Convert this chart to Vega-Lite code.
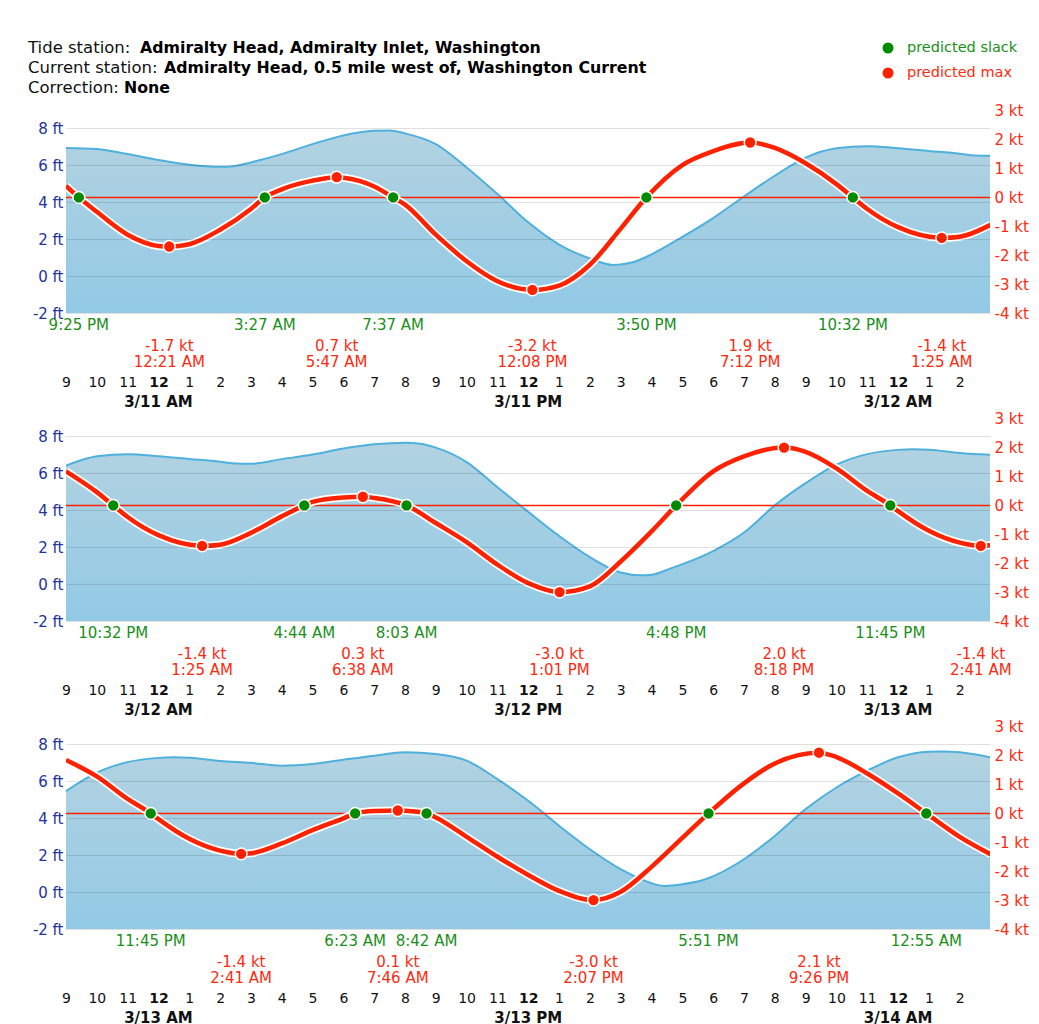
{
 "$schema": "https://vega.github.io/schema/vega-lite/v6.json",
 "background": "white",
 "padding": {"left": 28, "top": 40, "right": 4, "bottom": 0},
 "autosize": {"type": "pad"},
 "config": {"font": "DejaVu Sans", "view": {"stroke": null}},
 "datasets": {
  "header": [
   {"label": "Tide station:", "value": "Admiralty Head, Admiralty Inlet, Washington"},
   {"label": "Current station:", "value": "Admiralty Head, 0.5 mile west of, Washington Current"},
   {"label": "Correction:", "value": "None"}
  ],
  "legend": [
   {"item": "predicted slack", "kind": "slack"},
   {"item": "predicted max", "kind": "max"}
  ],
  "days": [
   {"t": "2013-03-11T00:00Z", "day": "3/11 AM"}, {"t": "2013-03-11T12:00Z", "day": "3/11 PM"},
   {"t": "2013-03-12T00:00Z", "day": "3/12 AM"}, {"t": "2013-03-12T12:00Z", "day": "3/12 PM"},
   {"t": "2013-03-13T00:00Z", "day": "3/13 AM"}, {"t": "2013-03-13T12:00Z", "day": "3/13 PM"},
   {"t": "2013-03-14T00:00Z", "day": "3/14 AM"}
  ],
  "tide": [
   {"t": "2013-03-10T21:00Z", "ft": 6.92}, {"t": "2013-03-10T22:00Z", "ft": 6.86}, {"t": "2013-03-10T23:00Z", "ft": 6.59},
   {"t": "2013-03-11T00:00Z", "ft": 6.27}, {"t": "2013-03-11T01:00Z", "ft": 6.01}, {"t": "2013-03-11T02:00Z", "ft": 5.90},
   {"t": "2013-03-11T02:30Z", "ft": 5.95}, {"t": "2013-03-11T03:00Z", "ft": 6.14}, {"t": "2013-03-11T04:00Z", "ft": 6.59},
   {"t": "2013-03-11T05:00Z", "ft": 7.13}, {"t": "2013-03-11T06:00Z", "ft": 7.60}, {"t": "2013-03-11T07:00Z", "ft": 7.85},
   {"t": "2013-03-11T07:30Z", "ft": 7.87}, {"t": "2013-03-11T08:00Z", "ft": 7.71}, {"t": "2013-03-11T09:00Z", "ft": 7.13},
   {"t": "2013-03-11T10:00Z", "ft": 5.87}, {"t": "2013-03-11T11:00Z", "ft": 4.43}, {"t": "2013-03-11T12:00Z", "ft": 2.90},
   {"t": "2013-03-11T13:00Z", "ft": 1.70}, {"t": "2013-03-11T14:00Z", "ft": 0.95}, {"t": "2013-03-11T14:45Z", "ft": 0.60},
   {"t": "2013-03-11T15:00Z", "ft": 0.62}, {"t": "2013-03-11T15:30Z", "ft": 0.80}, {"t": "2013-03-11T16:00Z", "ft": 1.17},
   {"t": "2013-03-11T17:00Z", "ft": 2.11}, {"t": "2013-03-11T18:00Z", "ft": 3.13}, {"t": "2013-03-11T19:00Z", "ft": 4.30},
   {"t": "2013-03-11T20:00Z", "ft": 5.42}, {"t": "2013-03-11T21:00Z", "ft": 6.40}, {"t": "2013-03-11T22:00Z", "ft": 6.90},
   {"t": "2013-03-11T23:00Z", "ft": 7.02}, {"t": "2013-03-12T00:00Z", "ft": 6.91}, {"t": "2013-03-12T01:00Z", "ft": 6.76},
   {"t": "2013-03-12T02:00Z", "ft": 6.61}, {"t": "2013-03-12T02:30Z", "ft": 6.52}, {"t": "2013-03-12T03:00Z", "ft": 6.50},
   {"t": "2013-03-12T04:00Z", "ft": 6.75}, {"t": "2013-03-12T05:00Z", "ft": 7.00}, {"t": "2013-03-12T06:00Z", "ft": 7.32},
   {"t": "2013-03-12T07:00Z", "ft": 7.55}, {"t": "2013-03-12T08:00Z", "ft": 7.64}, {"t": "2013-03-12T08:30Z", "ft": 7.58},
   {"t": "2013-03-12T09:00Z", "ft": 7.37}, {"t": "2013-03-12T10:00Z", "ft": 6.59}, {"t": "2013-03-12T11:00Z", "ft": 5.23},
   {"t": "2013-03-12T12:00Z", "ft": 3.90}, {"t": "2013-03-12T13:00Z", "ft": 2.60}, {"t": "2013-03-12T14:00Z", "ft": 1.45},
   {"t": "2013-03-12T15:00Z", "ft": 0.62}, {"t": "2013-03-12T15:40Z", "ft": 0.47}, {"t": "2013-03-12T16:00Z", "ft": 0.50},
   {"t": "2013-03-12T16:40Z", "ft": 0.87}, {"t": "2013-03-12T18:00Z", "ft": 1.78}, {"t": "2013-03-12T19:00Z", "ft": 2.78},
   {"t": "2013-03-12T20:00Z", "ft": 4.25}, {"t": "2013-03-12T21:00Z", "ft": 5.45}, {"t": "2013-03-12T22:00Z", "ft": 6.45},
   {"t": "2013-03-12T23:00Z", "ft": 7.02}, {"t": "2013-03-13T00:00Z", "ft": 7.25}, {"t": "2013-03-13T00:30Z", "ft": 7.28},
   {"t": "2013-03-13T01:00Z", "ft": 7.26}, {"t": "2013-03-13T02:00Z", "ft": 7.08}, {"t": "2013-03-13T03:00Z", "ft": 6.98},
   {"t": "2013-03-13T04:00Z", "ft": 6.83}, {"t": "2013-03-13T05:00Z", "ft": 6.92}, {"t": "2013-03-13T06:00Z", "ft": 7.15},
   {"t": "2013-03-13T07:00Z", "ft": 7.37}, {"t": "2013-03-13T08:00Z", "ft": 7.55}, {"t": "2013-03-13T09:00Z", "ft": 7.46},
   {"t": "2013-03-13T10:00Z", "ft": 7.10}, {"t": "2013-03-13T11:00Z", "ft": 6.10}, {"t": "2013-03-13T12:00Z", "ft": 4.93},
   {"t": "2013-03-13T13:00Z", "ft": 3.58}, {"t": "2013-03-13T14:00Z", "ft": 2.31}, {"t": "2013-03-13T15:00Z", "ft": 1.23},
   {"t": "2013-03-13T15:40Z", "ft": 0.69}, {"t": "2013-03-13T16:25Z", "ft": 0.33}, {"t": "2013-03-13T17:00Z", "ft": 0.42},
   {"t": "2013-03-13T17:45Z", "ft": 0.69}, {"t": "2013-03-13T19:00Z", "ft": 1.77}, {"t": "2013-03-13T20:00Z", "ft": 3.03},
   {"t": "2013-03-13T21:00Z", "ft": 4.48}, {"t": "2013-03-13T22:00Z", "ft": 5.65}, {"t": "2013-03-13T23:00Z", "ft": 6.56},
   {"t": "2013-03-14T00:00Z", "ft": 7.28}, {"t": "2013-03-14T01:00Z", "ft": 7.58}, {"t": "2013-03-14T01:30Z", "ft": 7.60},
   {"t": "2013-03-14T02:00Z", "ft": 7.55}, {"t": "2013-03-14T03:00Z", "ft": 7.28}
  ],
  "current": [
   {"t": "2013-03-10T21:00Z", "kt": 0.40}, {"t": "2013-03-10T21:25Z", "kt": 0}, {"t": "2013-03-10T22:00Z", "kt": -0.50},
   {"t": "2013-03-10T23:00Z", "kt": -1.29}, {"t": "2013-03-11T00:00Z", "kt": -1.68}, {"t": "2013-03-11T00:21Z", "kt": -1.70},
   {"t": "2013-03-11T01:00Z", "kt": -1.62}, {"t": "2013-03-11T02:00Z", "kt": -1.12}, {"t": "2013-03-11T03:00Z", "kt": -0.40},
   {"t": "2013-03-11T03:27Z", "kt": 0}, {"t": "2013-03-11T04:00Z", "kt": 0.28}, {"t": "2013-03-11T05:00Z", "kt": 0.58},
   {"t": "2013-03-11T05:47Z", "kt": 0.70}, {"t": "2013-03-11T06:00Z", "kt": 0.68}, {"t": "2013-03-11T07:00Z", "kt": 0.38},
   {"t": "2013-03-11T07:37Z", "kt": 0}, {"t": "2013-03-11T08:00Z", "kt": -0.25}, {"t": "2013-03-11T09:00Z", "kt": -1.29},
   {"t": "2013-03-11T10:00Z", "kt": -2.21}, {"t": "2013-03-11T11:00Z", "kt": -2.90}, {"t": "2013-03-11T12:08Z", "kt": -3.20},
   {"t": "2013-03-11T13:00Z", "kt": -3.05}, {"t": "2013-03-11T14:00Z", "kt": -2.33}, {"t": "2013-03-11T15:00Z", "kt": -1.08},
   {"t": "2013-03-11T15:50Z", "kt": 0}, {"t": "2013-03-11T17:00Z", "kt": 1.12}, {"t": "2013-03-11T18:00Z", "kt": 1.60},
   {"t": "2013-03-11T19:12Z", "kt": 1.90}, {"t": "2013-03-11T20:00Z", "kt": 1.71}, {"t": "2013-03-11T21:00Z", "kt": 1.18},
   {"t": "2013-03-11T22:00Z", "kt": 0.46}, {"t": "2013-03-11T22:32Z", "kt": 0}, {"t": "2013-03-11T23:00Z", "kt": -0.40},
   {"t": "2013-03-12T00:00Z", "kt": -1.03}, {"t": "2013-03-12T01:25Z", "kt": -1.40}, {"t": "2013-03-12T02:00Z", "kt": -1.36},
   {"t": "2013-03-12T03:00Z", "kt": -0.95}, {"t": "2013-03-12T04:00Z", "kt": -0.38}, {"t": "2013-03-12T04:44Z", "kt": 0},
   {"t": "2013-03-12T05:00Z", "kt": 0.12}, {"t": "2013-03-12T06:00Z", "kt": 0.27}, {"t": "2013-03-12T06:38Z", "kt": 0.30},
   {"t": "2013-03-12T07:00Z", "kt": 0.26}, {"t": "2013-03-12T08:03Z", "kt": 0}, {"t": "2013-03-12T09:00Z", "kt": -0.61},
   {"t": "2013-03-12T10:00Z", "kt": -1.27}, {"t": "2013-03-12T11:00Z", "kt": -2.05}, {"t": "2013-03-12T12:00Z", "kt": -2.69},
   {"t": "2013-03-12T13:01Z", "kt": -3.00}, {"t": "2013-03-12T14:00Z", "kt": -2.80}, {"t": "2013-03-12T15:00Z", "kt": -1.94},
   {"t": "2013-03-12T16:00Z", "kt": -0.90}, {"t": "2013-03-12T16:48Z", "kt": 0}, {"t": "2013-03-12T18:00Z", "kt": 1.18},
   {"t": "2013-03-12T19:00Z", "kt": 1.70}, {"t": "2013-03-12T20:18Z", "kt": 2.00}, {"t": "2013-03-12T21:00Z", "kt": 1.85},
   {"t": "2013-03-12T22:00Z", "kt": 1.28}, {"t": "2013-03-12T23:00Z", "kt": 0.50}, {"t": "2013-03-12T23:45Z", "kt": 0},
   {"t": "2013-03-13T00:00Z", "kt": -0.20}, {"t": "2013-03-13T01:00Z", "kt": -0.88}, {"t": "2013-03-13T02:00Z", "kt": -1.29},
   {"t": "2013-03-13T02:41Z", "kt": -1.40}, {"t": "2013-03-13T03:00Z", "kt": -1.38}, {"t": "2013-03-13T04:00Z", "kt": -1.04},
   {"t": "2013-03-13T05:00Z", "kt": -0.58}, {"t": "2013-03-13T06:00Z", "kt": -0.17}, {"t": "2013-03-13T06:23Z", "kt": 0},
   {"t": "2013-03-13T07:00Z", "kt": 0.08}, {"t": "2013-03-13T07:46Z", "kt": 0.10}, {"t": "2013-03-13T08:00Z", "kt": 0.09},
   {"t": "2013-03-13T08:42Z", "kt": 0}, {"t": "2013-03-13T09:00Z", "kt": -0.14}, {"t": "2013-03-13T10:00Z", "kt": -0.81},
   {"t": "2013-03-13T11:00Z", "kt": -1.50}, {"t": "2013-03-13T12:00Z", "kt": -2.13}, {"t": "2013-03-13T13:00Z", "kt": -2.68},
   {"t": "2013-03-13T14:07Z", "kt": -3.00}, {"t": "2013-03-13T15:00Z", "kt": -2.71}, {"t": "2013-03-13T16:00Z", "kt": -1.85},
   {"t": "2013-03-13T17:00Z", "kt": -0.85}, {"t": "2013-03-13T17:51Z", "kt": 0}, {"t": "2013-03-13T19:00Z", "kt": 1.04},
   {"t": "2013-03-13T20:00Z", "kt": 1.73}, {"t": "2013-03-13T21:26Z", "kt": 2.10}, {"t": "2013-03-13T22:00Z", "kt": 1.95},
   {"t": "2013-03-13T23:00Z", "kt": 1.38}, {"t": "2013-03-14T00:00Z", "kt": 0.69}, {"t": "2013-03-14T00:55Z", "kt": 0},
   {"t": "2013-03-14T02:00Z", "kt": -0.81}, {"t": "2013-03-14T03:00Z", "kt": -1.41}
  ],
  "events": [
   {"t": "2013-03-10T21:25Z", "kind": "slack", "kt": 0, "label": "9:25 PM", "speed": ""},
   {"t": "2013-03-11T00:21Z", "kind": "max", "kt": -1.7, "label": "12:21 AM", "speed": "-1.7 kt"},
   {"t": "2013-03-11T03:27Z", "kind": "slack", "kt": 0, "label": "3:27 AM", "speed": ""},
   {"t": "2013-03-11T05:47Z", "kind": "max", "kt": 0.7, "label": "5:47 AM", "speed": "0.7 kt"},
   {"t": "2013-03-11T07:37Z", "kind": "slack", "kt": 0, "label": "7:37 AM", "speed": ""},
   {"t": "2013-03-11T12:08Z", "kind": "max", "kt": -3.2, "label": "12:08 PM", "speed": "-3.2 kt"},
   {"t": "2013-03-11T15:50Z", "kind": "slack", "kt": 0, "label": "3:50 PM", "speed": ""},
   {"t": "2013-03-11T19:12Z", "kind": "max", "kt": 1.9, "label": "7:12 PM", "speed": "1.9 kt"},
   {"t": "2013-03-11T22:32Z", "kind": "slack", "kt": 0, "label": "10:32 PM", "speed": ""},
   {"t": "2013-03-12T01:25Z", "kind": "max", "kt": -1.4, "label": "1:25 AM", "speed": "-1.4 kt"},
   {"t": "2013-03-12T04:44Z", "kind": "slack", "kt": 0, "label": "4:44 AM", "speed": ""},
   {"t": "2013-03-12T06:38Z", "kind": "max", "kt": 0.3, "label": "6:38 AM", "speed": "0.3 kt"},
   {"t": "2013-03-12T08:03Z", "kind": "slack", "kt": 0, "label": "8:03 AM", "speed": ""},
   {"t": "2013-03-12T13:01Z", "kind": "max", "kt": -3.0, "label": "1:01 PM", "speed": "-3.0 kt"},
   {"t": "2013-03-12T16:48Z", "kind": "slack", "kt": 0, "label": "4:48 PM", "speed": ""},
   {"t": "2013-03-12T20:18Z", "kind": "max", "kt": 2.0, "label": "8:18 PM", "speed": "2.0 kt"},
   {"t": "2013-03-12T23:45Z", "kind": "slack", "kt": 0, "label": "11:45 PM", "speed": ""},
   {"t": "2013-03-13T02:41Z", "kind": "max", "kt": -1.4, "label": "2:41 AM", "speed": "-1.4 kt"},
   {"t": "2013-03-13T06:23Z", "kind": "slack", "kt": 0, "label": "6:23 AM", "speed": ""},
   {"t": "2013-03-13T07:46Z", "kind": "max", "kt": 0.1, "label": "7:46 AM", "speed": "0.1 kt"},
   {"t": "2013-03-13T08:42Z", "kind": "slack", "kt": 0, "label": "8:42 AM", "speed": ""},
   {"t": "2013-03-13T14:07Z", "kind": "max", "kt": -3.0, "label": "2:07 PM", "speed": "-3.0 kt"},
   {"t": "2013-03-13T17:51Z", "kind": "slack", "kt": 0, "label": "5:51 PM", "speed": ""},
   {"t": "2013-03-13T21:26Z", "kind": "max", "kt": 2.1, "label": "9:26 PM", "speed": "2.1 kt"},
   {"t": "2013-03-14T00:55Z", "kind": "slack", "kt": 0, "label": "12:55 AM", "speed": ""}
  ]
 },
 "bounds": "flush",
 "spacing": 40,
 "vconcat": [
  {
   "width": 924, "height": 40,
   "resolve": {"scale": {"y": "independent"}},
   "layer": [
    {"data": {"name": "header"},
     "mark": {"type": "text", "align": "left", "baseline": "middle", "dx": -38, "fontSize": 16.5, "color": "#111111"},
     "encoding": {
      "x": {"datum": 0, "type": "quantitative", "scale": {"domain": [0, 115.5], "nice": false, "zero": false}, "axis": null},
      "y": {"field": "label", "type": "ordinal", "sort": null, "scale": {"type": "point", "range": [0, 40], "padding": 0}, "axis": null},
      "text": {"field": "label"}}},
    {"data": {"name": "header"},
     "transform": [{"calculate": "length(datum.label) + 1", "as": "pos"}],
     "mark": {"type": "text", "align": "left", "baseline": "middle", "dx": -38, "fontSize": 15.8, "fontWeight": "bold", "color": "#000000"},
     "encoding": {
      "x": {"field": "pos", "type": "quantitative", "axis": null},
      "y": {"field": "label", "type": "ordinal", "sort": null, "scale": {"type": "point", "range": [0, 40], "padding": 0}, "axis": null},
      "text": {"field": "value"}}},
    {"data": {"name": "legend"},
     "mark": {"type": "circle", "size": 121, "opacity": 1},
     "encoding": {
      "x": {"datum": 102.75, "type": "quantitative", "axis": null},
      "y": {"field": "item", "type": "ordinal", "sort": null, "scale": {"type": "point", "range": [0, 25], "padding": 0}, "axis": null},
      "color": {"condition": {"test": "datum.kind == 'slack'", "value": "#008a00"}, "value": "#ff2200"}}},
    {"data": {"name": "legend"},
     "mark": {"type": "text", "align": "left", "baseline": "middle", "dx": 19, "fontSize": 14.5},
     "encoding": {
      "x": {"datum": 102.75, "type": "quantitative", "axis": null},
      "y": {"field": "item", "type": "ordinal", "sort": null, "scale": {"type": "point", "range": [0, 25], "padding": 0}, "axis": null},
      "text": {"field": "item"},
      "color": {"condition": {"test": "datum.kind == 'slack'", "value": "#1a8f1a"}, "value": "#ff2a10"}}}
   ]
  },
  {
   "bounds": "flush",
   "spacing": 123,
   "vconcat": [
    {
     "width": 924, "height": 185,
     "resolve": {"scale": {"y": "independent"}, "axis": {"y": "independent"}},
     "layer": [
      {"data": {"name": "tide"},
       "transform": [{"filter": "time(datum.t) >= utc(2013,2,10,21) && time(datum.t) <= utc(2013,2,12,3)"}],
       "mark": {"type": "area", "interpolate": "monotone", "clip": true, "fillOpacity": 0.85,
        "color": {"x1": 0, "y1": 0, "x2": 0, "y2": 1, "gradient": "linear", "stops": [{"offset": 0, "color": "#a5cbdc"}, {"offset": 1, "color": "#7fc0e0"}]},
        "line": {"color": "#4eb0dc", "strokeWidth": 2}},
       "encoding": {
        "x": {"field": "t", "type": "temporal", "title": null,
         "scale": {"type": "utc", "domain": [{"year": 2013, "month": 3, "date": 10, "hours": 21, "utc": true}, {"year": 2013, "month": 3, "date": 12, "hours": 2, "minutes": 59, "utc": true}]},
         "axis": {"title": null, "orient": "bottom", "domain": false, "ticks": false, "grid": false, "zindex": 1, "tickCount": 30,
          "labelExpr": "utchours(datum.value) % 12 == 0 ? '12' : utcFormat(datum.value, '%-I')",
          "labelFontWeight": {"condition": {"test": "utchours(datum.value) % 12 == 0", "value": "bold"}, "value": "normal"},
          "labelFontSize": 14, "labelColor": "#111111", "labelPadding": 62,
          "labelOverlap": false, "labelFlush": false, "labelBound": false}},
        "y": {"field": "ft", "type": "quantitative", "scale": {"domain": [-2, 8], "nice": false, "zero": false},
         "axis": {"title": null, "orient": "left", "values": [-2, 0, 2, 4, 6, 8], "labelExpr": "datum.value + ' ft'", "labelColor": "#22339c", "labelFontSize": 15, "labelPadding": 3, "ticks": false, "domain": false, "grid": true, "gridColor": "#000000", "gridOpacity": 0.12, "zindex": 1}},
        "y2": {"datum": -2}}},
      {"data": {"values": [{"kt": 0}]},
       "mark": {"type": "rule", "color": "#ff2200", "strokeWidth": 1.5, "opacity": 1},
       "encoding": {"y": {"field": "kt", "type": "quantitative", "scale": {"domain": [-4, 3], "range": [185, -17.3], "nice": false, "zero": false}, "axis": null}}},
      {"data": {"name": "current"},
       "transform": [{"filter": "time(datum.t) >= utc(2013,2,10,21) && time(datum.t) <= utc(2013,2,12,3)"}],
       "mark": {"type": "line", "interpolate": "monotone", "clip": true, "color": "#ffffff", "strokeWidth": 8},
       "encoding": {"x": {"field": "t", "type": "temporal", "title": null}, "y": {"field": "kt", "type": "quantitative", "scale": {"domain": [-4, 3], "range": [185, -17.3], "nice": false, "zero": false}, "axis": null}}},
      {"data": {"name": "current"},
       "transform": [{"filter": "time(datum.t) >= utc(2013,2,10,21) && time(datum.t) <= utc(2013,2,12,3)"}],
       "mark": {"type": "line", "interpolate": "monotone", "clip": true, "color": "#ff2200", "strokeWidth": 4.5},
       "encoding": {"x": {"field": "t", "type": "temporal", "title": null}, "y": {"field": "kt", "type": "quantitative", "scale": {"domain": [-4, 3], "range": [185, -17.3], "nice": false, "zero": false},
        "axis": {"title": null, "orient": "right", "values": [-4, -3, -2, -1, 0, 1, 2, 3], "labelExpr": "datum.value + ' kt'", "labelColor": "#ff2a10", "labelFontSize": 15, "labelPadding": 4, "ticks": false, "domain": false, "grid": false, "zindex": 1}}}},
      {"data": {"name": "events"},
       "transform": [{"filter": "time(datum.t) >= utc(2013,2,10,21) && time(datum.t) <= utc(2013,2,12,3)"}],
       "mark": {"type": "circle", "size": 140, "opacity": 1, "stroke": "#ffffff", "strokeWidth": 1.5},
       "encoding": {"x": {"field": "t", "type": "temporal", "title": null}, "y": {"field": "kt", "type": "quantitative", "scale": {"domain": [-4, 3], "range": [185, -17.3], "nice": false, "zero": false}, "axis": null},
        "color": {"condition": {"test": "datum.kind == 'slack'", "value": "#008a00"}, "value": "#ff2200"}}},
      {"data": {"name": "events"},
       "transform": [{"filter": "time(datum.t) >= utc(2013,2,10,21) && time(datum.t) <= utc(2013,2,12,3) && datum.kind == 'slack'"}],
       "mark": {"type": "text", "align": "center", "baseline": "middle", "dy": 12, "fontSize": 15, "color": "#1a8f1a"},
       "encoding": {"x": {"field": "t", "type": "temporal", "title": null}, "y": {"datum": -2, "type": "quantitative", "scale": {"domain": [-2, 8], "nice": false, "zero": false}, "axis": null}, "text": {"field": "label"}}},
      {"data": {"name": "events"},
       "transform": [{"filter": "time(datum.t) >= utc(2013,2,10,21) && time(datum.t) <= utc(2013,2,12,3) && datum.kind == 'max'"}],
       "mark": {"type": "text", "align": "center", "baseline": "middle", "dy": 33, "fontSize": 15, "color": "#ff2a10"},
       "encoding": {"x": {"field": "t", "type": "temporal", "title": null}, "y": {"datum": -2, "type": "quantitative", "scale": {"domain": [-2, 8], "nice": false, "zero": false}, "axis": null}, "text": {"field": "speed"}}},
      {"data": {"name": "events"},
       "transform": [{"filter": "time(datum.t) >= utc(2013,2,10,21) && time(datum.t) <= utc(2013,2,12,3) && datum.kind == 'max'"}],
       "mark": {"type": "text", "align": "center", "baseline": "middle", "dy": 49, "fontSize": 15, "color": "#ff2a10"},
       "encoding": {"x": {"field": "t", "type": "temporal", "title": null}, "y": {"datum": -2, "type": "quantitative", "scale": {"domain": [-2, 8], "nice": false, "zero": false}, "axis": null}, "text": {"field": "label"}}},
      {"data": {"name": "days"},
       "transform": [{"filter": "time(datum.t) >= utc(2013,2,10,21) && time(datum.t) <= utc(2013,2,12,3)"}],
       "mark": {"type": "text", "align": "center", "baseline": "middle", "dy": 89, "fontSize": 15, "fontWeight": "bold", "color": "#111111"},
       "encoding": {"x": {"field": "t", "type": "temporal", "title": null}, "y": {"datum": -2, "type": "quantitative", "scale": {"domain": [-2, 8], "nice": false, "zero": false}, "axis": null}, "text": {"field": "day"}}}
     ]
    },
    {
     "width": 924, "height": 185,
     "resolve": {"scale": {"y": "independent"}, "axis": {"y": "independent"}},
     "layer": [
      {"data": {"name": "tide"},
       "transform": [{"filter": "time(datum.t) >= utc(2013,2,11,21) && time(datum.t) <= utc(2013,2,13,3)"}],
       "mark": {"type": "area", "interpolate": "monotone", "clip": true, "fillOpacity": 0.85,
        "color": {"x1": 0, "y1": 0, "x2": 0, "y2": 1, "gradient": "linear", "stops": [{"offset": 0, "color": "#a5cbdc"}, {"offset": 1, "color": "#7fc0e0"}]},
        "line": {"color": "#4eb0dc", "strokeWidth": 2}},
       "encoding": {
        "x": {"field": "t", "type": "temporal", "title": null,
         "scale": {"type": "utc", "domain": [{"year": 2013, "month": 3, "date": 11, "hours": 21, "utc": true}, {"year": 2013, "month": 3, "date": 13, "hours": 2, "minutes": 59, "utc": true}]},
         "axis": {"title": null, "orient": "bottom", "domain": false, "ticks": false, "grid": false, "zindex": 1, "tickCount": 30,
          "labelExpr": "utchours(datum.value) % 12 == 0 ? '12' : utcFormat(datum.value, '%-I')",
          "labelFontWeight": {"condition": {"test": "utchours(datum.value) % 12 == 0", "value": "bold"}, "value": "normal"},
          "labelFontSize": 14, "labelColor": "#111111", "labelPadding": 62,
          "labelOverlap": false, "labelFlush": false, "labelBound": false}},
        "y": {"field": "ft", "type": "quantitative", "scale": {"domain": [-2, 8], "nice": false, "zero": false},
         "axis": {"title": null, "orient": "left", "values": [-2, 0, 2, 4, 6, 8], "labelExpr": "datum.value + ' ft'", "labelColor": "#22339c", "labelFontSize": 15, "labelPadding": 3, "ticks": false, "domain": false, "grid": true, "gridColor": "#000000", "gridOpacity": 0.12, "zindex": 1}},
        "y2": {"datum": -2}}},
      {"data": {"values": [{"kt": 0}]},
       "mark": {"type": "rule", "color": "#ff2200", "strokeWidth": 1.5, "opacity": 1},
       "encoding": {"y": {"field": "kt", "type": "quantitative", "scale": {"domain": [-4, 3], "range": [185, -17.3], "nice": false, "zero": false}, "axis": null}}},
      {"data": {"name": "current"},
       "transform": [{"filter": "time(datum.t) >= utc(2013,2,11,21) && time(datum.t) <= utc(2013,2,13,3)"}],
       "mark": {"type": "line", "interpolate": "monotone", "clip": true, "color": "#ffffff", "strokeWidth": 8},
       "encoding": {"x": {"field": "t", "type": "temporal", "title": null}, "y": {"field": "kt", "type": "quantitative", "scale": {"domain": [-4, 3], "range": [185, -17.3], "nice": false, "zero": false}, "axis": null}}},
      {"data": {"name": "current"},
       "transform": [{"filter": "time(datum.t) >= utc(2013,2,11,21) && time(datum.t) <= utc(2013,2,13,3)"}],
       "mark": {"type": "line", "interpolate": "monotone", "clip": true, "color": "#ff2200", "strokeWidth": 4.5},
       "encoding": {"x": {"field": "t", "type": "temporal", "title": null}, "y": {"field": "kt", "type": "quantitative", "scale": {"domain": [-4, 3], "range": [185, -17.3], "nice": false, "zero": false},
        "axis": {"title": null, "orient": "right", "values": [-4, -3, -2, -1, 0, 1, 2, 3], "labelExpr": "datum.value + ' kt'", "labelColor": "#ff2a10", "labelFontSize": 15, "labelPadding": 4, "ticks": false, "domain": false, "grid": false, "zindex": 1}}}},
      {"data": {"name": "events"},
       "transform": [{"filter": "time(datum.t) >= utc(2013,2,11,21) && time(datum.t) <= utc(2013,2,13,3)"}],
       "mark": {"type": "circle", "size": 140, "opacity": 1, "stroke": "#ffffff", "strokeWidth": 1.5},
       "encoding": {"x": {"field": "t", "type": "temporal", "title": null}, "y": {"field": "kt", "type": "quantitative", "scale": {"domain": [-4, 3], "range": [185, -17.3], "nice": false, "zero": false}, "axis": null},
        "color": {"condition": {"test": "datum.kind == 'slack'", "value": "#008a00"}, "value": "#ff2200"}}},
      {"data": {"name": "events"},
       "transform": [{"filter": "time(datum.t) >= utc(2013,2,11,21) && time(datum.t) <= utc(2013,2,13,3) && datum.kind == 'slack'"}],
       "mark": {"type": "text", "align": "center", "baseline": "middle", "dy": 12, "fontSize": 15, "color": "#1a8f1a"},
       "encoding": {"x": {"field": "t", "type": "temporal", "title": null}, "y": {"datum": -2, "type": "quantitative", "scale": {"domain": [-2, 8], "nice": false, "zero": false}, "axis": null}, "text": {"field": "label"}}},
      {"data": {"name": "events"},
       "transform": [{"filter": "time(datum.t) >= utc(2013,2,11,21) && time(datum.t) <= utc(2013,2,13,3) && datum.kind == 'max'"}],
       "mark": {"type": "text", "align": "center", "baseline": "middle", "dy": 33, "fontSize": 15, "color": "#ff2a10"},
       "encoding": {"x": {"field": "t", "type": "temporal", "title": null}, "y": {"datum": -2, "type": "quantitative", "scale": {"domain": [-2, 8], "nice": false, "zero": false}, "axis": null}, "text": {"field": "speed"}}},
      {"data": {"name": "events"},
       "transform": [{"filter": "time(datum.t) >= utc(2013,2,11,21) && time(datum.t) <= utc(2013,2,13,3) && datum.kind == 'max'"}],
       "mark": {"type": "text", "align": "center", "baseline": "middle", "dy": 49, "fontSize": 15, "color": "#ff2a10"},
       "encoding": {"x": {"field": "t", "type": "temporal", "title": null}, "y": {"datum": -2, "type": "quantitative", "scale": {"domain": [-2, 8], "nice": false, "zero": false}, "axis": null}, "text": {"field": "label"}}},
      {"data": {"name": "days"},
       "transform": [{"filter": "time(datum.t) >= utc(2013,2,11,21) && time(datum.t) <= utc(2013,2,13,3)"}],
       "mark": {"type": "text", "align": "center", "baseline": "middle", "dy": 89, "fontSize": 15, "fontWeight": "bold", "color": "#111111"},
       "encoding": {"x": {"field": "t", "type": "temporal", "title": null}, "y": {"datum": -2, "type": "quantitative", "scale": {"domain": [-2, 8], "nice": false, "zero": false}, "axis": null}, "text": {"field": "day"}}}
     ]
    },
    {
     "width": 924, "height": 185,
     "resolve": {"scale": {"y": "independent"}, "axis": {"y": "independent"}},
     "layer": [
      {"data": {"name": "tide"},
       "transform": [{"filter": "time(datum.t) >= utc(2013,2,12,21) && time(datum.t) <= utc(2013,2,14,3)"}],
       "mark": {"type": "area", "interpolate": "monotone", "clip": true, "fillOpacity": 0.85,
        "color": {"x1": 0, "y1": 0, "x2": 0, "y2": 1, "gradient": "linear", "stops": [{"offset": 0, "color": "#a5cbdc"}, {"offset": 1, "color": "#7fc0e0"}]},
        "line": {"color": "#4eb0dc", "strokeWidth": 2}},
       "encoding": {
        "x": {"field": "t", "type": "temporal", "title": null,
         "scale": {"type": "utc", "domain": [{"year": 2013, "month": 3, "date": 12, "hours": 21, "utc": true}, {"year": 2013, "month": 3, "date": 14, "hours": 2, "minutes": 59, "utc": true}]},
         "axis": {"title": null, "orient": "bottom", "domain": false, "ticks": false, "grid": false, "zindex": 1, "tickCount": 30,
          "labelExpr": "utchours(datum.value) % 12 == 0 ? '12' : utcFormat(datum.value, '%-I')",
          "labelFontWeight": {"condition": {"test": "utchours(datum.value) % 12 == 0", "value": "bold"}, "value": "normal"},
          "labelFontSize": 14, "labelColor": "#111111", "labelPadding": 62,
          "labelOverlap": false, "labelFlush": false, "labelBound": false}},
        "y": {"field": "ft", "type": "quantitative", "scale": {"domain": [-2, 8], "nice": false, "zero": false},
         "axis": {"title": null, "orient": "left", "values": [-2, 0, 2, 4, 6, 8], "labelExpr": "datum.value + ' ft'", "labelColor": "#22339c", "labelFontSize": 15, "labelPadding": 3, "ticks": false, "domain": false, "grid": true, "gridColor": "#000000", "gridOpacity": 0.12, "zindex": 1}},
        "y2": {"datum": -2}}},
      {"data": {"values": [{"kt": 0}]},
       "mark": {"type": "rule", "color": "#ff2200", "strokeWidth": 1.5, "opacity": 1},
       "encoding": {"y": {"field": "kt", "type": "quantitative", "scale": {"domain": [-4, 3], "range": [185, -17.3], "nice": false, "zero": false}, "axis": null}}},
      {"data": {"name": "current"},
       "transform": [{"filter": "time(datum.t) >= utc(2013,2,12,21) && time(datum.t) <= utc(2013,2,14,3)"}],
       "mark": {"type": "line", "interpolate": "monotone", "clip": true, "color": "#ffffff", "strokeWidth": 8},
       "encoding": {"x": {"field": "t", "type": "temporal", "title": null}, "y": {"field": "kt", "type": "quantitative", "scale": {"domain": [-4, 3], "range": [185, -17.3], "nice": false, "zero": false}, "axis": null}}},
      {"data": {"name": "current"},
       "transform": [{"filter": "time(datum.t) >= utc(2013,2,12,21) && time(datum.t) <= utc(2013,2,14,3)"}],
       "mark": {"type": "line", "interpolate": "monotone", "clip": true, "color": "#ff2200", "strokeWidth": 4.5},
       "encoding": {"x": {"field": "t", "type": "temporal", "title": null}, "y": {"field": "kt", "type": "quantitative", "scale": {"domain": [-4, 3], "range": [185, -17.3], "nice": false, "zero": false},
        "axis": {"title": null, "orient": "right", "values": [-4, -3, -2, -1, 0, 1, 2, 3], "labelExpr": "datum.value + ' kt'", "labelColor": "#ff2a10", "labelFontSize": 15, "labelPadding": 4, "ticks": false, "domain": false, "grid": false, "zindex": 1}}}},
      {"data": {"name": "events"},
       "transform": [{"filter": "time(datum.t) >= utc(2013,2,12,21) && time(datum.t) <= utc(2013,2,14,3)"}],
       "mark": {"type": "circle", "size": 140, "opacity": 1, "stroke": "#ffffff", "strokeWidth": 1.5},
       "encoding": {"x": {"field": "t", "type": "temporal", "title": null}, "y": {"field": "kt", "type": "quantitative", "scale": {"domain": [-4, 3], "range": [185, -17.3], "nice": false, "zero": false}, "axis": null},
        "color": {"condition": {"test": "datum.kind == 'slack'", "value": "#008a00"}, "value": "#ff2200"}}},
      {"data": {"name": "events"},
       "transform": [{"filter": "time(datum.t) >= utc(2013,2,12,21) && time(datum.t) <= utc(2013,2,14,3) && datum.kind == 'slack'"}],
       "mark": {"type": "text", "align": "center", "baseline": "middle", "dy": 12, "fontSize": 15, "color": "#1a8f1a"},
       "encoding": {"x": {"field": "t", "type": "temporal", "title": null}, "y": {"datum": -2, "type": "quantitative", "scale": {"domain": [-2, 8], "nice": false, "zero": false}, "axis": null}, "text": {"field": "label"}}},
      {"data": {"name": "events"},
       "transform": [{"filter": "time(datum.t) >= utc(2013,2,12,21) && time(datum.t) <= utc(2013,2,14,3) && datum.kind == 'max'"}],
       "mark": {"type": "text", "align": "center", "baseline": "middle", "dy": 33, "fontSize": 15, "color": "#ff2a10"},
       "encoding": {"x": {"field": "t", "type": "temporal", "title": null}, "y": {"datum": -2, "type": "quantitative", "scale": {"domain": [-2, 8], "nice": false, "zero": false}, "axis": null}, "text": {"field": "speed"}}},
      {"data": {"name": "events"},
       "transform": [{"filter": "time(datum.t) >= utc(2013,2,12,21) && time(datum.t) <= utc(2013,2,14,3) && datum.kind == 'max'"}],
       "mark": {"type": "text", "align": "center", "baseline": "middle", "dy": 49, "fontSize": 15, "color": "#ff2a10"},
       "encoding": {"x": {"field": "t", "type": "temporal", "title": null}, "y": {"datum": -2, "type": "quantitative", "scale": {"domain": [-2, 8], "nice": false, "zero": false}, "axis": null}, "text": {"field": "label"}}},
      {"data": {"name": "days"},
       "transform": [{"filter": "time(datum.t) >= utc(2013,2,12,21) && time(datum.t) <= utc(2013,2,14,3)"}],
       "mark": {"type": "text", "align": "center", "baseline": "middle", "dy": 89, "fontSize": 15, "fontWeight": "bold", "color": "#111111"},
       "encoding": {"x": {"field": "t", "type": "temporal", "title": null}, "y": {"datum": -2, "type": "quantitative", "scale": {"domain": [-2, 8], "nice": false, "zero": false}, "axis": null}, "text": {"field": "day"}}}
     ]
    }
   ]
  }
 ]
}
